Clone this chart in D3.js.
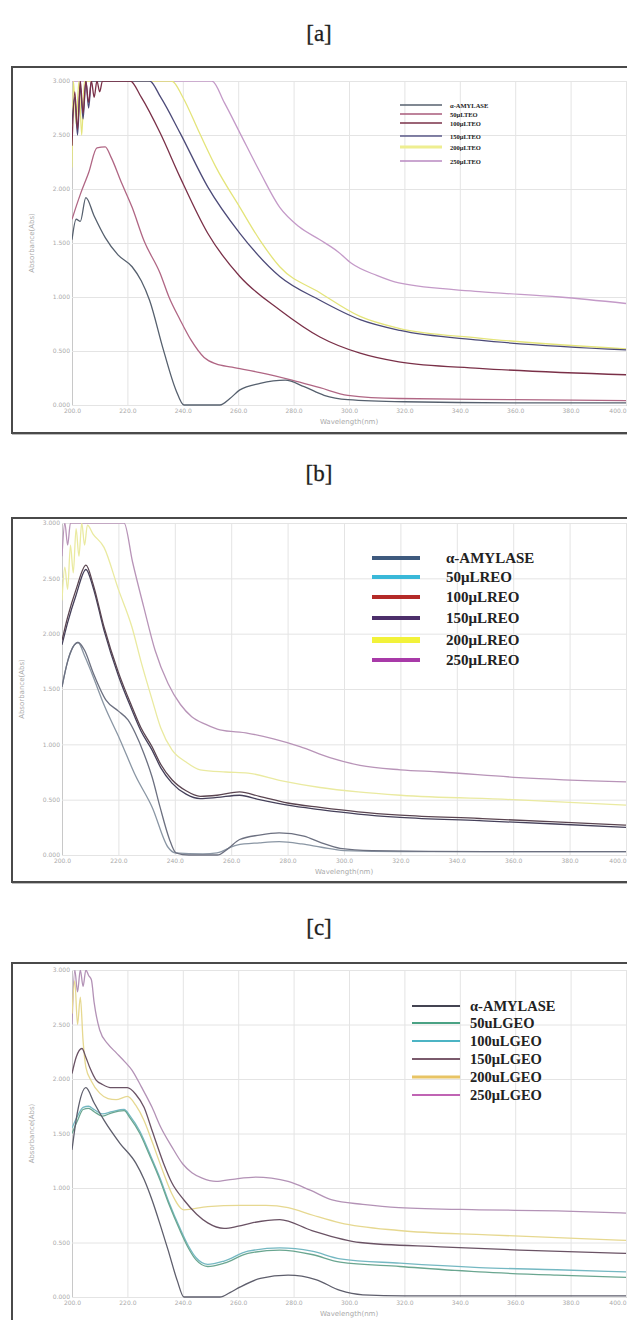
<!DOCTYPE html>
<html><head><meta charset="utf-8">
<script src="https://cdn.jsdelivr.net/npm/d3@7"></script>
<style>body{margin:0;background:#fff}svg{display:block}</style>
</head><body>
<script>
// ---------- DATA ----------
const wlTicks = [200,220,240,260,280,300,320,340,360,380,400];
const absTicks = [0,0.5,1,1.5,2,2.5,3];
const panelTitles = ["[a]","[b]","[c]"];
const legendA = ["α-AMYLASE","50μLTEO","100μLTEO","150μLTEO","200μLTEO","250μLTEO"];
const legendB = ["α-AMYLASE","50μLREO","100μLREO","150μLREO","200μLREO","250μLREO"];
const legendC = ["α-AMYLASE","50uLGEO","100uLGEO","150μLGEO","200uLGEO","250μLGEO"];

// Panel a series [wavelength nm, absorbance]
const amylaseA = [[200,1.53],[201.5,1.72],[203,1.7],[205,1.92],[208,1.75],[212,1.55],[216.6,1.39],[221.7,1.28],[225,1.15],[228,0.97],[233,0.51],[237.5,0.14],[240.4,0],[253.4,0],[257,0.06],[260.6,0.14],[267.9,0.2],[277,0.23],[283.8,0.17],[291,0.09],[299.6,0.05],[320,0.03],[360,0.02],[400,0.02]];
const a50 = [[200,1.72],[203,1.95],[206,2.15],[209,2.38],[212,2.39],[214,2.3],[218,2.05],[221.7,1.83],[226,1.52],[231.8,1.22],[235,1.0],[239,0.79],[243,0.6],[247.7,0.44],[252,0.38],[257.8,0.35],[267.9,0.30],[279.4,0.23],[289.5,0.16],[299.6,0.09],[318,0.06],[360,0.05],[400,0.04]];
const a100 = [[200,2.4],[201,2.9],[202,2.55],[203,3.0],[204,2.7],[205,3.0],[206,2.8],[207,3.0],[208,2.85],[209,3.0],[210,2.9],[211,3.0],[221,3.0],[225,2.85],[231.8,2.52],[239,2.11],[249,1.59],[260.6,1.19],[275,0.88],[289.5,0.63],[304,0.48],[318,0.40],[347,0.34],[400,0.28]];
const a150 = [[200,2.6],[201,2.85],[202,2.5],[203,2.95],[204,2.65],[205,3.0],[206,2.75],[207,3.0],[228,3.0],[232,2.85],[239,2.52],[249,2.02],[260.6,1.59],[275,1.19],[289.5,0.97],[304,0.79],[318.4,0.69],[347,0.60],[400,0.51]];
const a200 = [[200,2.2],[200.5,3.0],[201.5,2.6],[202.5,3.0],[203.5,2.5],[204.5,3.0],[236,3.0],[240,2.85],[246,2.52],[252,2.2],[260.6,1.83],[268,1.52],[275,1.28],[289.5,1.04],[304,0.82],[318,0.71],[347,0.62],[400,0.52]];
const a250 = [[200,3.0],[250.5,3.0],[255,2.8],[260.6,2.52],[268,2.15],[275,1.83],[282,1.65],[289.5,1.53],[296,1.42],[301,1.31],[310,1.2],[318,1.13],[347,1.05],[376,1.0],[400,0.94]];

// Panel b series
const amylaseB = [[200,1.52],[202,1.75],[205.7,1.92],[208,1.85],[211,1.65],[215.6,1.40],[220,1.3],[223.4,1.22],[226,1.1],[229,0.92],[232,0.7],[234.8,0.43],[238,0.15],[240.4,0.02],[245,0],[255,0],[259,0.06],[263,0.14],[270,0.18],[277,0.20],[285.8,0.17],[292,0.11],[298.6,0.06],[310,0.04],[350,0.03],[400,0.03]];
const b50 = [[200,1.52],[202,1.75],[205.7,1.92],[208,1.8],[210.6,1.64],[215,1.35],[220.6,1.04],[226,0.72],[232,0.43],[237.6,0.07],[240,0.02],[250,0.01],[255,0.02],[262,0.09],[270,0.11],[277,0.12],[285,0.1],[292,0.07],[300,0.04],[320,0.03],[400,0.03]];
const b100 = [[200,1.94],[202,2.15],[205,2.4],[208.5,2.62],[211,2.45],[214.9,2.06],[220,1.65],[224.8,1.34],[228,1.15],[231.9,0.98],[235,0.82],[239,0.68],[244,0.58],[249,0.53],[255,0.54],[263,0.57],[270,0.53],[280,0.47],[291.5,0.43],[305,0.39],[319.9,0.36],[348,0.33],[375,0.30],[400,0.27]];
const b150 = [[200,1.9],[202,2.1],[205,2.35],[208.5,2.58],[211,2.42],[214.9,2.03],[220,1.62],[224.8,1.31],[228,1.12],[231.9,0.95],[235,0.79],[239,0.65],[244,0.55],[249,0.51],[255,0.52],[263,0.54],[270,0.50],[280,0.45],[291.5,0.41],[305,0.37],[319.9,0.34],[348,0.31],[375,0.28],[400,0.25]];
const b200 = [[200,2.3],[201,2.6],[202,2.4],[203,2.8],[204,2.55],[205,2.95],[206,2.7],[207,3.0],[208,2.8],[209,2.98],[211,2.9],[214.9,2.78],[220,2.4],[224.8,2.06],[228,1.75],[232,1.40],[235,1.15],[239,0.95],[244,0.84],[249,0.77],[258,0.75],[266,0.74],[278,0.67],[291.5,0.61],[305,0.57],[320,0.54],[360,0.50],[400,0.45]];
const b250 = [[200,2.7],[201,3.0],[202,2.8],[203,3.0],[222,3.0],[225,2.65],[229,2.24],[233,1.85],[237.6,1.55],[242,1.36],[246,1.25],[251,1.18],[256,1.13],[266,1.10],[275,1.05],[284.4,0.98],[295,0.88],[305.7,0.81],[320,0.77],[334,0.75],[362,0.70],[400,0.66]];

// Panel c series
const amylaseC = [[200,1.35],[202,1.7],[205,1.92],[208,1.78],[211.6,1.62],[217.3,1.41],[223,1.23],[226,1.08],[228.9,0.89],[232,0.65],[234.7,0.43],[238,0.15],[240.4,0],[253.4,0],[257,0.04],[260.6,0.09],[268,0.17],[278,0.20],[288,0.16],[296.8,0.06],[305,0.02],[320,0.01],[400,0.01]];
const c50 = [[200,1.5],[202,1.62],[204,1.72],[206,1.73],[208,1.70],[211,1.66],[214.4,1.69],[218.8,1.71],[221,1.64],[224.5,1.50],[228,1.3],[231.8,1.07],[235,0.85],[239,0.61],[242,0.45],[244.8,0.34],[249,0.28],[254.9,0.31],[263.5,0.40],[275,0.43],[286.6,0.39],[296.8,0.32],[318.4,0.28],[347,0.23],[375,0.20],[400,0.18]];
const c100 = [[200,1.55],[202,1.66],[204,1.74],[206,1.75],[208,1.72],[211,1.68],[214.4,1.7],[218.8,1.72],[221,1.66],[224.5,1.52],[228,1.32],[231.8,1.09],[235,0.87],[239,0.63],[242,0.47],[244.8,0.36],[249,0.30],[254.9,0.33],[263.5,0.42],[275,0.45],[286.6,0.42],[296.8,0.35],[318.4,0.31],[347,0.27],[375,0.25],[400,0.23]];
const c150 = [[200,2.05],[201.5,2.2],[203.6,2.28],[205,2.2],[206.5,2.1],[208.7,1.99],[211,1.95],[214.4,1.92],[220,1.92],[223,1.86],[226,1.74],[229,1.52],[233,1.23],[236,1.05],[240.4,0.89],[245,0.76],[249,0.68],[254.9,0.63],[260,0.65],[265,0.68],[275,0.71],[286.6,0.61],[304,0.50],[332.9,0.46],[361.7,0.43],[400,0.40]];
const c200 = [[200,2.6],[201,2.9],[202,2.5],[203,2.75],[204,2.35],[205,2.11],[207,1.98],[210,1.87],[213,1.82],[215.9,1.81],[220,1.84],[223,1.76],[226,1.62],[229,1.42],[233,1.14],[236,0.95],[240.4,0.80],[249,0.83],[260.6,0.84],[270,0.84],[278,0.82],[287,0.75],[296.8,0.68],[318,0.61],[350,0.57],[400,0.52]];
const c250 = [[200,2.5],[201,3.0],[202,2.8],[203,3.0],[204,2.85],[205,3.0],[206,2.95],[207,2.91],[208,2.7],[210,2.45],[213,2.32],[216,2.24],[219,2.16],[221.7,2.08],[225,1.93],[228.9,1.74],[232,1.56],[236,1.38],[240,1.22],[243.3,1.14],[247,1.09],[252,1.06],[258,1.08],[266.4,1.10],[272,1.09],[278,1.06],[286,0.98],[293.9,0.89],[305,0.85],[318,0.82],[347,0.80],[375,0.79],[400,0.77]];

// ---------- STYLE / LAYOUT ----------
const W = 627, H = 1320;
const svg = d3.select("body").append("svg").attr("width", W).attr("height", H);

const panels = [
  { title: panelTitles[0], titleY: 33, frame: [12, 67, 640, 433], plot: {x0:72, x1:626, y0:405, y1:81},
    series: [amylaseA,a50,a100,a150,a200,a250],
    colors: ["#56606e","#b06684","#7a3048","#4c4a78","#e4e47a","#c49ac8"],
    legend: legendA, legendColors: ["#56606e","#a85a7a","#7a3048","#5a5888","#eeee90","#b888c0"],
    leg: {x0:400, x1:442, tx:450, ys:[105,114,123,136,147,161], lw:1.6, fs:6.5, widths:[null,null,null,null,3,null]} },
  { title: panelTitles[1], titleY: 473, frame: [12, 518, 640, 882], plot: {x0:62, x1:626, y0:855, y1:523},
    series: [amylaseB,b50,b100,b150,b200,b250],
    colors: ["#6c7080","#8a96a4","#5a4450","#45405a","#eaeaa0","#b894b8"],
    legend: legendB, legendColors: ["#3e5a7e","#3ab8d8","#b42a28","#4c2e6a","#f2f23a","#a83aa8"],
    leg: {x0:372, x1:420, tx:446, ys:[558,577,597,618,640,660], lw:4, fs:15, widths:[null,null,null,null,6,null]} },
  { title: panelTitles[2], titleY: 927, frame: [12, 963, 640, 1340], plot: {x0:72, x1:626, y0:1297, y1:970},
    series: [amylaseC,c50,c100,c150,c200,c250],
    colors: ["#5e5e6c","#6aa690","#74b8c2","#6a5264","#e6d890","#b392b6"],
    legend: legendC, legendColors: ["#444452","#4aa284","#4cb4c4","#7a5a6c","#e8c464","#c064b4"],
    leg: {x0:412, x1:460, tx:470, ys:[1006,1023,1041,1059,1077,1095], lw:2, fs:14.5, widths:[null,null,null,null,3,null]} }
];

panels.forEach((p, i) => {
  const g = svg.append("g");
  // title
  g.append("text").attr("x", 319).attr("y", p.titleY).attr("text-anchor","middle")
    .attr("dominant-baseline","central")
    .style("font-family","'Liberation Serif','DejaVu Serif',serif").style("font-size","23px").style("fill","#1e1e1e")
    .style("stroke","#1e1e1e").style("stroke-width","0.3px")
    .text(p.title);
  // frame
  const [fx0, fy0, fx1, fy1] = p.frame;
  g.append("rect").attr("x", fx0+1).attr("y", fy0+1).attr("width", fx1-fx0).attr("height", fy1-fy0)
    .attr("fill","none").attr("stroke","#bbb").attr("stroke-width",2);
  g.append("rect").attr("x", fx0).attr("y", fy0).attr("width", fx1-fx0).attr("height", fy1-fy0)
    .attr("fill","#fff").attr("stroke","#4a4a4a").attr("stroke-width",2);

  const x = d3.scaleLinear().domain([200, 400]).range([p.plot.x0, p.plot.x1]);
  const y = d3.scaleLinear().domain([0, 3]).range([p.plot.y0, p.plot.y1]);

  // gridlines + axes
  g.append("g").attr("transform",`translate(0,${p.plot.y0})`)
    .call(d3.axisBottom(x).tickValues(wlTicks).tickSize(-(p.plot.y0-p.plot.y1)).tickFormat(d => d.toFixed(1)))
    .call(a => a.select(".domain").attr("stroke","#c8c8c8"))
    .call(a => a.selectAll(".tick line").attr("stroke","#e4e4e4"))
    .call(a => a.selectAll(".tick text").attr("dy","0.9em").attr("fill","#aaa")
      .style("font-size","6px").style("font-family","'DejaVu Sans',sans-serif")
      .attr("text-anchor", d => d === 400 ? "end" : "middle"));
  g.append("g").attr("transform",`translate(${p.plot.x0},0)`)
    .call(d3.axisLeft(y).tickValues(absTicks).tickSize(-(p.plot.x1-p.plot.x0)).tickFormat(d3.format(".3f")))
    .call(a => a.select(".domain").attr("stroke","#c8c8c8"))
    .call(a => a.selectAll(".tick line").attr("stroke","#e4e4e4"))
    .call(a => a.selectAll(".tick text").attr("fill","#aaa").attr("x",-2)
      .style("font-size","6px").style("font-family","'DejaVu Sans',sans-serif"));
  // axis titles
  g.append("text").attr("x", (p.plot.x0+p.plot.x1)/2).attr("y", p.plot.y0 + 19)
    .attr("text-anchor","middle").attr("fill","#aaa").style("font-size","7px")
    .style("font-family","'DejaVu Sans',sans-serif").text("Wavelength(nm)");
  const ylx = p.plot.x0 - 38, yly = (p.plot.y0+p.plot.y1)/2;
  g.append("text").attr("transform",`translate(${ylx},${yly}) rotate(-90)`)
    .attr("text-anchor","middle").attr("fill","#aaa").style("font-size","7px")
    .style("font-family","'DejaVu Sans',sans-serif").text("Absorbance(Abs)");

  // clip
  const cid = "clip" + i;
  svg.append("clipPath").attr("id", cid).append("rect")
    .attr("x", p.plot.x0).attr("y", p.plot.y1).attr("width", p.plot.x1-p.plot.x0+20).attr("height", p.plot.y0-p.plot.y1+1);

  const line = d3.line().x(d => x(d[0])).y(d => y(d[1])).curve(d3.curveMonotoneX);
  const lg = g.append("g").attr("clip-path", `url(#${cid})`);
  [5,4,3,2,1,0].forEach(k => {
    lg.append("path").datum(p.series[k]).attr("d", line)
      .attr("fill","none").attr("stroke", p.colors[k]).attr("stroke-width", 1.3)
      .attr("stroke-linejoin","round");
  });

  // legend
  const L = p.leg;
  p.legend.forEach((lab, k) => {
    g.append("line").attr("x1", L.x0).attr("x2", L.x1).attr("y1", L.ys[k]).attr("y2", L.ys[k])
      .attr("stroke", p.legendColors[k]).attr("stroke-width", L.widths[k] || L.lw);
    g.append("text").attr("x", L.tx).attr("y", L.ys[k]).attr("dominant-baseline","central")
      .style("font-family","'Liberation Serif','Times New Roman',serif").style("font-weight","bold")
      .style("font-size", L.fs + "px").attr("fill","#222").text(lab);
  });
});
</script>
</body></html>
